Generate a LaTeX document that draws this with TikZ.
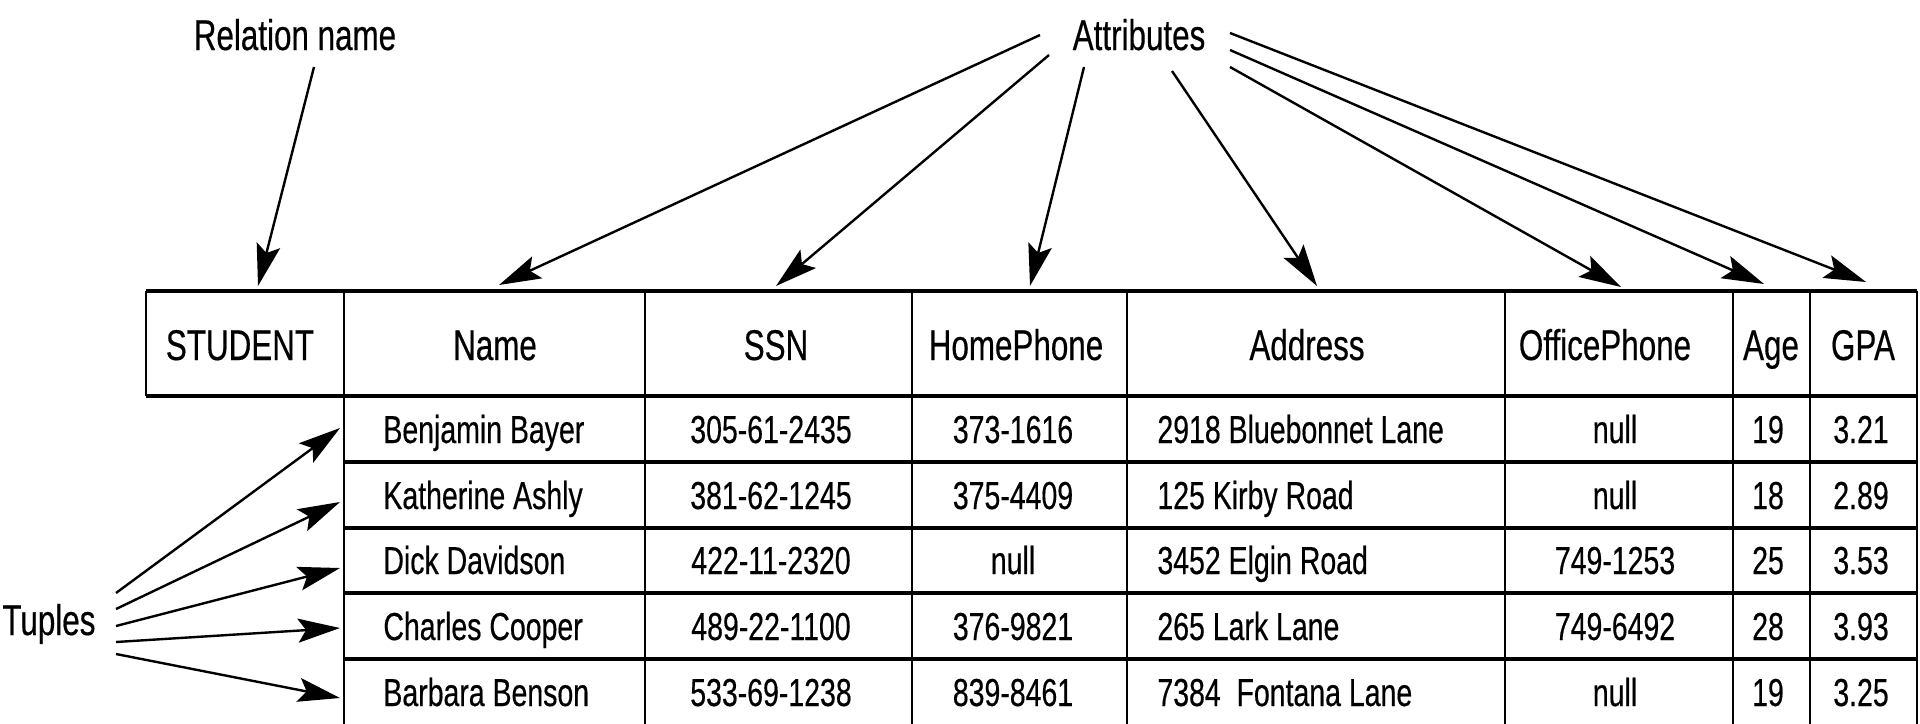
\documentclass[tikz,border=0pt]{standalone}
\usepackage{fontspec}
\setmainfont{Liberation Sans}[FakeStretch=0.73,FakeBold=0.4]
\usetikzlibrary{arrows.meta}
\begin{document}
\begin{tikzpicture}[x=0.5pt,y=-0.5pt,
  hline/.style={line width=1.8pt},
  vline/.style={line width=1.4pt},
  hdr/.style={anchor=base, inner sep=0pt, font=\fontsize{21.5pt}{24pt}\selectfont},
  cellc/.style={anchor=base, inner sep=0pt, font=\fontsize{19.5pt}{22pt}\selectfont},
  celll/.style={anchor=base west, inner sep=0pt, font=\fontsize{19.5pt}{22pt}\selectfont},
  lbl/.style={anchor=base, inner sep=0pt, font=\fontsize{21.5pt}{24pt}\selectfont},
  arr/.style={line width=1.2pt, -{Stealth[length=21pt,width=12pt,inset=4pt]}}]
\useasboundingbox (0,0) rectangle (1920,723);
% grid
\draw[hline] (146,291) -- (1917,291);
\draw[hline] (146,396) -- (1917,396);
\foreach \yy in {462,528,593,659} \draw[hline] (344,\yy) -- (1917,\yy);
\draw[vline] (146,291) -- (146,396);
\foreach \xx in {344,645,912,1127,1505,1733,1810,1917} \draw[vline] (\xx,291) -- (\xx,724);
% labels
\node[lbl] (rel) at (295,50) {Relation name};
\node[lbl] (attr) at (1139,50) {Attributes};
\node[lbl, anchor=base west] (tup) at (2,635) {Tuples};
% header
\node[hdr] (h0) at (240,360) {STUDENT};
\node[hdr] (h1) at (495,360) {Name};
\node[hdr] (h2) at (776,360) {SSN};
\node[hdr] (h3) at (1016,360) {HomePhone};
\node[hdr] (h4) at (1307,360) {Address};
\node[hdr] (h5) at (1605,360) {OfficePhone};
\node[hdr] (h6) at (1771,360) {Age};
\node[hdr] (h7) at (1863,360) {GPA};
% rows
\node[celll] (d11) at (383,443) {Benjamin Bayer};
\node[cellc] (d12) at (771,443) {305-61-2435};
\node[cellc] (d13) at (1013,443) {373-1616};
\node[celll] (d14) at (1157,443) {2918 Bluebonnet Lane};
\node[cellc] (d15) at (1615,443) {null};
\node[cellc] (d16) at (1768,443) {19};
\node[cellc] (d17) at (1861,443) {3.21};
\node[celll] (d21) at (383,509) {Katherine Ashly};
\node[cellc] (d22) at (771,509) {381-62-1245};
\node[cellc] (d23) at (1013,509) {375-4409};
\node[celll] (d24) at (1157,509) {125 Kirby Road};
\node[cellc] (d25) at (1615,509) {null};
\node[cellc] (d26) at (1768,509) {18};
\node[cellc] (d27) at (1861,509) {2.89};
\node[celll] (d31) at (383,574) {Dick Davidson};
\node[cellc] (d32) at (771,574) {422-11-2320};
\node[cellc] (d33) at (1013,574) {null};
\node[celll] (d34) at (1157,574) {3452 Elgin Road};
\node[cellc] (d35) at (1615,574) {749-1253};
\node[cellc] (d36) at (1768,574) {25};
\node[cellc] (d37) at (1861,574) {3.53};
\node[celll] (d41) at (383,640) {Charles Cooper};
\node[cellc] (d42) at (771,640) {489-22-1100};
\node[cellc] (d43) at (1013,640) {376-9821};
\node[celll] (d44) at (1157,640) {265 Lark Lane};
\node[cellc] (d45) at (1615,640) {749-6492};
\node[cellc] (d46) at (1768,640) {28};
\node[cellc] (d47) at (1861,640) {3.93};
\node[celll] (d51) at (383,706) {Barbara Benson};
\node[cellc] (d52) at (771,706) {533-69-1238};
\node[cellc] (d53) at (1013,706) {839-8461};
\node[celll] (d54) at (1157,706) {7384\ \ Fontana Lane};
\node[cellc] (d55) at (1615,706) {null};
\node[cellc] (d56) at (1768,706) {19};
\node[cellc] (d57) at (1861,706) {3.25};
% arrow end points
\coordinate (rs) at (314,67);   \coordinate (re) at (258,286);
\coordinate (as1) at (1040,35); \coordinate (ae1) at (499,285);
\coordinate (as2) at (1049,55); \coordinate (ae2) at (776,286);
\coordinate (as3) at (1084,67); \coordinate (ae3) at (1030,286);
\coordinate (as4) at (1172,71); \coordinate (ae4) at (1317,286);
\coordinate (as5) at (1230,67); \coordinate (ae5) at (1621,287);
\coordinate (as6) at (1230,50); \coordinate (ae6) at (1764,284);
\coordinate (as7) at (1230,33); \coordinate (ae7) at (1866,282);
\coordinate (ts1) at (116,593); \coordinate (te1) at (340,428);
\coordinate (ts2) at (116,609); \coordinate (te2) at (340,502);
\coordinate (ts3) at (116,626); \coordinate (te3) at (340,568);
\coordinate (ts4) at (116,642); \coordinate (te4) at (340,628);
\coordinate (ts5) at (116,654); \coordinate (te5) at (340,698);
\draw[arr] (rs) -- (re);
\foreach \i in {1,...,7} \draw[arr] (as\i) -- (ae\i);
\foreach \i in {1,...,5} \draw[arr] (ts\i) -- (te\i);
\end{tikzpicture}
\end{document}
